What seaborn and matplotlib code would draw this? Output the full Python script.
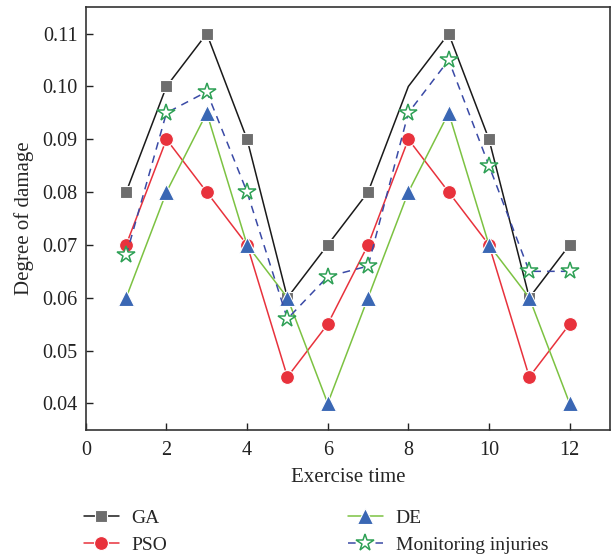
import numpy as np
import pandas as pd
import seaborn as sns
from matplotlib import pyplot as plt

# values
exercise_time = [1, 2, 3, 4, 5, 6, 7, 8, 9, 10, 11, 12]
ga = [0.08, 0.10, 0.11, 0.09, 0.06, 0.07, 0.08, 0.10, 0.11, 0.09, 0.06, 0.07]
pso = [0.07, 0.09, 0.08, 0.07, 0.045, 0.055, 0.07, 0.09, 0.08, 0.07, 0.045, 0.055]
de = [0.06, 0.08, 0.095, 0.07, 0.06, 0.04, 0.06, 0.08, 0.095, 0.07, 0.06, 0.04]
monitoring = [0.068, 0.095, 0.099, 0.08, 0.056, 0.064, 0.066, 0.095, 0.105, 0.085, 0.065, 0.065]

sns.set_style("ticks")
plt.rcParams['font.family'] = ['Liberation Serif', 'DejaVu Serif']
plt.rcParams['xtick.direction'] = 'in'
plt.rcParams['ytick.direction'] = 'in'

fig = plt.figure(figsize=(6.13, 5.56), dpi=100)
ax = fig.add_axes([0.14, 0.227, 0.855, 0.76])

series = [
    ("GA", ga, dict(color="#1a1a1a", marker="s", markersize=9, markerfacecolor="#6e6e6e",
                    markeredgecolor="white", markeredgewidth=0.8, linewidth=1.1,
                    markevery=[0, 1, 2, 3, 4, 5, 6, 8, 9, 10, 11])),
    ("PSO", pso, dict(color="#e8323c", marker="o", markersize=10, markerfacecolor="#e8323c",
                      markeredgecolor="white", markeredgewidth=0.8, linewidth=1.1)),
    ("DE", de, dict(color="#7cc242", marker="^", markersize=11, markerfacecolor="#3a67b4",
                    markeredgecolor="white", markeredgewidth=0.8, linewidth=1.1)),
    ("Monitoring injuries", monitoring, dict(color="#3a4aa6", marker="*", markersize=13,
                                             markerfacecolor="white", markeredgecolor="#2ea055",
                                             markeredgewidth=1.1, linewidth=1.1,
                                             linestyle=(0, (5, 4)))),
]

for name, vals, style in series:
    sns.lineplot(x=exercise_time, y=vals, ax=ax, label=name, **style)

ax.set_xlim(0, 13)
ax.set_ylim(0.035, 0.115)
ax.set_xticks([0, 2, 4, 6, 8, 10, 12])
ax.set_yticks([0.04, 0.05, 0.06, 0.07, 0.08, 0.09, 0.10, 0.11])
ax.set_yticklabels(["0.04", "0.05", "0.06", "0.07", "0.08", "0.09", "0.10", "0.11"])
ax.tick_params(labelsize=14.5, length=5, width=1, colors="#222222")
ax.tick_params(axis="x", pad=8)
ax.tick_params(axis="y", pad=6)
for sp in ax.spines.values():
    sp.set_linewidth(1.2)
    sp.set_color("#333333")
ax.set_xlabel("Exercise time", fontsize=15, labelpad=6)
ax.set_ylabel("Degree of damage", fontsize=15, labelpad=6)

handles, labels = ax.get_legend_handles_labels()
ax.legend_.remove()
fig.legend(handles, labels, ncol=2, loc="upper left", bbox_to_anchor=(0.108, 0.116),
           frameon=False, fontsize=14, handlelength=1.8, columnspacing=9.3,
           labelspacing=0.5, handletextpad=0.65)

fig.savefig("out.png", dpi=100)
